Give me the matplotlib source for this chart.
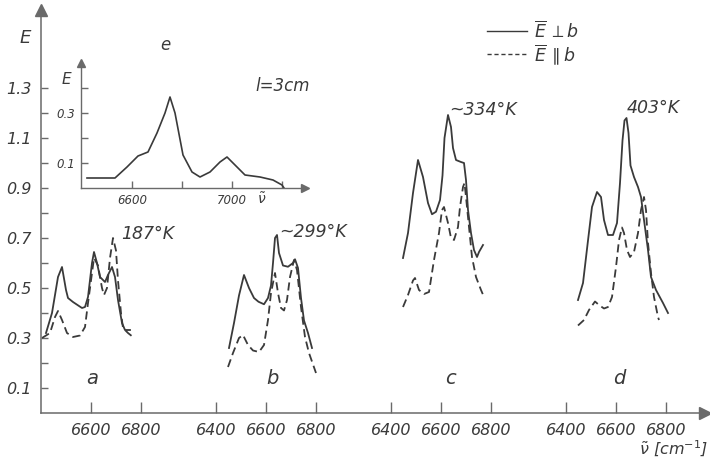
import matplotlib
matplotlib.use("Agg")
import matplotlib.pyplot as plt
from matplotlib.lines import Line2D

plt.rcParams['font.family'] = 'DejaVu Sans'
plt.rcParams['mathtext.fontset'] = 'dejavusans'

INK = '#3a3a3a'
AXC = '#6a6a6a'

# panel a (187 K)
a_nu_perp = [6420, 6444, 6468, 6484, 6500, 6508, 6528, 6564, 6576, 6588, 6604, 6612,
             6624, 6636, 6656, 6668, 6684, 6696, 6708, 6724, 6736, 6756]
a_E_perp = [0.32, 0.40, 0.544, 0.584, 0.492, 0.46, 0.444, 0.42, 0.424, 0.464, 0.60, 0.644,
            0.60, 0.544, 0.524, 0.552, 0.584, 0.544, 0.452, 0.36, 0.332, 0.332]
a_nu_par = [6404, 6436, 6456, 6468, 6484, 6504, 6528, 6556, 6576, 6588, 6604, 6612,
            6628, 6644, 6652, 6664, 6676, 6688, 6700, 6708, 6720, 6728, 6748, 6768]
a_E_par = [0.30, 0.32, 0.384, 0.408, 0.372, 0.32, 0.304, 0.31, 0.344, 0.44, 0.56, 0.62,
           0.59, 0.50, 0.472, 0.50, 0.62, 0.70, 0.65, 0.53, 0.40, 0.34, 0.32, 0.304]

# panel b (~299 K)
b_nu_perp = [6452, 6472, 6492, 6512, 6532, 6552, 6570, 6592, 6608, 6620, 6628, 6636,
             6644, 6652, 6668, 6688, 6708, 6716, 6728, 6740, 6752, 6768, 6784]
b_E_perp = [0.26, 0.36, 0.47, 0.552, 0.50, 0.46, 0.445, 0.435, 0.46, 0.51, 0.60, 0.70,
            0.712, 0.64, 0.59, 0.585, 0.60, 0.615, 0.58, 0.46, 0.37, 0.32, 0.26]
b_nu_par = [6448, 6468, 6492, 6508, 6528, 6548, 6572, 6592, 6608, 6620, 6636, 6648,
            6660, 6672, 6684, 6696, 6712, 6724, 6740, 6756, 6772, 6800]
b_E_par = [0.184, 0.24, 0.30, 0.312, 0.272, 0.25, 0.244, 0.272, 0.372, 0.48, 0.56, 0.48,
           0.42, 0.41, 0.452, 0.544, 0.612, 0.572, 0.424, 0.304, 0.24, 0.16]

# panel c (~334 K)
c_nu_perp = [6448, 6468, 6488, 6508, 6528, 6548, 6564, 6580, 6596, 6606, 6614, 6628,
             6640, 6648, 6660, 6680, 6692, 6700, 6708, 6720, 6732, 6744, 6752, 6768]
c_E_perp = [0.62, 0.72, 0.88, 1.012, 0.944, 0.84, 0.795, 0.805, 0.852, 0.95, 1.10, 1.192,
            1.144, 1.06, 1.012, 1.004, 1.0, 0.932, 0.812, 0.72, 0.652, 0.624, 0.644, 0.672]
c_nu_par = [6448, 6468, 6488, 6496, 6512, 6532, 6552, 6572, 6592, 6604, 6612, 6628,
            6640, 6652, 6668, 6676, 6688, 6694, 6700, 6712, 6724, 6740, 6760, 6772]
c_E_par = [0.424, 0.472, 0.53, 0.54, 0.492, 0.476, 0.484, 0.612, 0.72, 0.812, 0.824, 0.76,
           0.70, 0.692, 0.744, 0.824, 0.904, 0.92, 0.864, 0.744, 0.624, 0.544, 0.492, 0.464]

# panel d (403 K)
d_nu_perp = [6448, 6468, 6488, 6504, 6524, 6540, 6552, 6568, 6588, 6604, 6616, 6626,
             6634, 6642, 6650, 6658, 6672, 6688, 6700, 6712, 6728, 6740, 6760, 6788, 6808]
d_E_perp = [0.452, 0.52, 0.69, 0.824, 0.884, 0.864, 0.772, 0.712, 0.712, 0.76, 0.92, 1.09,
            1.17, 1.18, 1.12, 0.99, 0.944, 0.904, 0.864, 0.772, 0.652, 0.544, 0.492, 0.44, 0.40]
d_nu_par = [6448, 6472, 6492, 6516, 6532, 6552, 6568, 6584, 6600, 6612, 6624, 6632,
            6644, 6656, 6672, 6688, 6700, 6712, 6720, 6728, 6740, 6752, 6768, 6772]
d_E_par = [0.35, 0.372, 0.412, 0.446, 0.432, 0.418, 0.424, 0.464, 0.584, 0.692, 0.742, 0.72,
           0.652, 0.624, 0.644, 0.72, 0.812, 0.864, 0.812, 0.68, 0.56, 0.464, 0.384, 0.372]

# inset e (l = 3 cm)
e_nu = [6420, 6532, 6580, 6624, 6664, 6700, 6732, 6752, 6772, 6804, 6840, 6872,
        6912, 6952, 6980, 7004, 7052, 7112, 7164, 7200, 7208]
e_E = [0.04, 0.04, 0.084, 0.128, 0.144, 0.22, 0.30, 0.364, 0.30, 0.132, 0.064, 0.044,
       0.064, 0.104, 0.124, 0.10, 0.052, 0.044, 0.032, 0.012, 0.0]

panel_names = ['a', 'b', 'c', 'd']
panel_temps = ['187°K', '~299°K', '~334°K', '403°K']
panel_shift = 700  # each panel drawn 700 cm-1 further right on the common axis
y_ticks = [0.1, 0.2, 0.3, 0.4, 0.5, 0.6, 0.7, 0.8, 0.9, 1.0, 1.1, 1.2, 1.3]
y_tick_labels = ['0.1', '', '0.3', '', '0.5', '', '0.7', '', '0.9', '', '1.1', '', '1.3']
panel_nu_ticks = [[6600, 6800], [6400, 6600, 6800], [6400, 6600, 6800], [6400, 6600, 6800]]
inset_x_ticks = [6600, 6800, 7000, 7200]
inset_x_labels = ['6600', '', '7000', '']
inset_y_ticks = [0.1, 0.2, 0.3, 0.4]
inset_y_labels = ['0.1', '', '0.3', '']

W, H = 710, 459


def fx(x):
    return x / W


def fy(y):
    return 1 - y / H


def label(x, y, s, size, ha='center'):
    fig.text(fx(x), fy(y), s, fontsize=size, color=INK, ha=ha, va='center',
             fontstyle='italic')


fig = plt.figure(figsize=(7.1, 4.59), dpi=100)

ax = fig.add_axes([fx(41), fy(413), (705 - 41) / W, (413 - 10) / H])
ax.set_xlim(6400, 6400 + 664 * 4)
ax.set_ylim(0, 403 / 250)
ax.patch.set_alpha(0)

data = [(a_nu_perp, a_E_perp, a_nu_par, a_E_par),
        (b_nu_perp, b_E_perp, b_nu_par, b_E_par),
        (c_nu_perp, c_E_perp, c_nu_par, c_E_par),
        (d_nu_perp, d_E_perp, d_nu_par, d_E_par)]

xt, xl = [], []
for k, (nu1, e1, nu2, e2) in enumerate(data):
    off = k * panel_shift
    ax.plot([v + off for v in nu1], e1, color=INK, lw=1.3)
    ax.plot([v + off for v in nu2], e2, color=INK, lw=1.3, dashes=(4.5, 2.5))
    for t in panel_nu_ticks[k]:
        xt.append(t + off)
        xl.append(str(t))

ax.set_xticks(xt)
ax.set_xticklabels(xl, fontstyle='italic')
ax.set_yticks(y_ticks)
ax.set_yticklabels(y_tick_labels, fontstyle='italic')
ax.tick_params(axis='x', direction='in', length=8, width=1, color=AXC,
               labelsize=11.5, labelcolor=INK, pad=7)
ax.tick_params(axis='y', direction='in', length=5, width=1, color=AXC,
               labelsize=11.5, labelcolor=INK, pad=7)
for s in ['top', 'right']:
    ax.spines[s].set_visible(False)
for s in ['left', 'bottom']:
    ax.spines[s].set_color(AXC)
    ax.spines[s].set_linewidth(1.1)
ax.plot(1, 0, '>', ms=8, color=AXC, transform=ax.transAxes, clip_on=False)
ax.plot(0, 1, '^', ms=8, color=AXC, transform=ax.transAxes, clip_on=False)

# inset
ins = fig.add_axes([fx(81), fy(188), (305 - 81) / W, (188 - 63) / H])
ins.patch.set_alpha(0)
ins.set_xlim(6396, 7292)
ins.set_ylim(0, 0.5)
ins.plot(e_nu, e_E, color=INK, lw=1.2)
ins.set_xticks(inset_x_ticks)
ins.set_xticklabels(inset_x_labels, fontstyle='italic')
ins.set_yticks(inset_y_ticks)
ins.set_yticklabels(inset_y_labels, fontstyle='italic')
ins.tick_params(direction='in', length=5, width=1, color=AXC,
                labelsize=8.5, labelcolor=INK, pad=4)
for s in ['top', 'right']:
    ins.spines[s].set_visible(False)
for s in ['left', 'bottom']:
    ins.spines[s].set_color(AXC)
    ins.spines[s].set_linewidth(1.0)
ins.plot(1, 0, '>', ms=6, color=AXC, transform=ins.transAxes, clip_on=False)
ins.plot(0, 1, '^', ms=6, color=AXC, transform=ins.transAxes, clip_on=False)

# labels
label(25, 38, 'E', 13)
label(66, 80, 'E', 11)
label(165, 45, 'e', 12)
label(255, 86, 'l=3cm', 12, ha='left')
label(262, 199, r'$\tilde{\nu}$', 10)
label(708, 449, r'$\tilde{\nu}$ [cm$^{-1}$]', 11.5, ha='right')

temp_pos = [(148, 234), (313, 232), (483, 110), (653, 108)]
letter_pos = [(92, 378), (272, 378), (450, 378), (619, 378)]
for k in range(4):
    label(temp_pos[k][0], temp_pos[k][1], panel_temps[k], 12.5)
    label(letter_pos[k][0], letter_pos[k][1], panel_names[k], 14)

# legend
fig.add_artist(Line2D([fx(487), fx(527)], [fy(31), fy(31)], color=INK, lw=1.0,
                      transform=fig.transFigure))
fig.add_artist(Line2D([fx(487), fx(527)], [fy(54), fy(54)], color=INK, lw=1.0,
                      dashes=(3, 2), transform=fig.transFigure))
label(534, 31, r'$\overline{E}\,\perp b$', 12.5, ha='left')
label(534, 55, r'$\overline{E}\,\parallel b$', 12.5, ha='left')

fig.savefig('out.png', dpi=100)
